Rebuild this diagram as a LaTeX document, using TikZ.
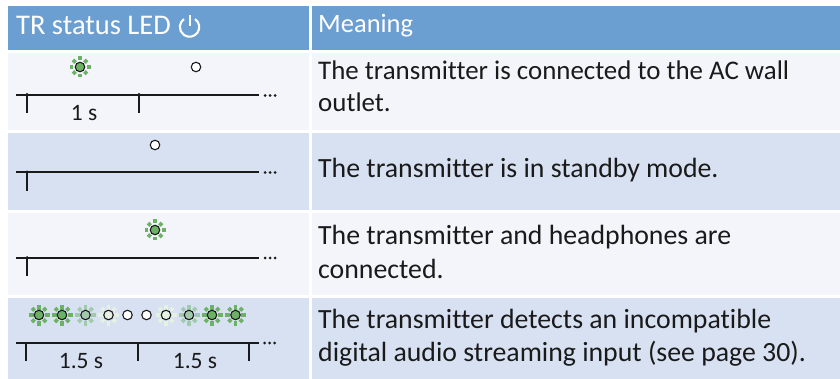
\documentclass[tikz,border=0pt]{standalone}
\usepackage{fontspec}
\setmainfont[RawFeature={-liga;-clig;-dlig}]{Carlito}
\definecolor{hdr}{HTML}{6B9ED1}
\definecolor{rowa}{HTML}{F3F5FB}
\definecolor{rowb}{HTML}{D7E1F1}
\definecolor{ledg}{HTML}{6CB165}
\definecolor{txt}{HTML}{1A1A1A}
\tikzset{
  cellfill/.style={fill=#1,draw=none},
  headtext/.style={text=white,anchor=base west,inner sep=0pt,font=\fontsize{28.5}{30}\selectfont},
  bodytext/.style={text=txt,anchor=base west,inner sep=0pt,align=left,font=\fontsize{27.8}{33}\selectfont},
  timetext/.style={text=txt,anchor=base,inner sep=0pt,font=\fontsize{23.5}{26}\selectfont},
  tline/.style={draw=txt,line width=1.1pt},
  tickl/.style={draw=txt,line width=1.1pt},
  tdot/.style={circle,fill=txt,draw=none,minimum size=3pt,inner sep=0pt},
  ledc/.style={circle,draw=txt,line width=1.1pt,minimum size=9.5pt,inner sep=0pt},
}
% #1,#2 centre, #3 colour, #4 inner start of the straight rays
\newcommand{\ledrays}[4]{%
  \foreach \a in {0,90,180,270}
    \fill[#3,shift={(#1,#2)},rotate=\a] (#4,-1.8) rectangle (10.5,1.8);
  \foreach \a in {45,135,225,315}
    \fill[#3,shift={(#1,#2)},rotate=\a] (6.2,-1.9) rectangle (9.9,1.9);
}
\newcommand{\ledon}[5]{%
  \ledrays{#2}{#3}{#4}{#5}
  \node[ledc,fill=#4] (#1) at (#2,#3) {};
}
\newcommand{\ledoff}[3]{\node[ledc,fill=white] (#1) at (#2,#3) {};}
\newcommand{\tmore}[3]{%
  \node[tdot] (#1a) at (#2,#3) {};
  \node[tdot] (#1b) at (#2+5,#3) {};
  \node[tdot] (#1c) at (#2+10,#3) {};
}
\begin{document}
\begin{tikzpicture}[x=1pt,y=-1pt]
\useasboundingbox (0,0) rectangle (840,379);
\fill[white] (0,0) rectangle (840,379);
% cells
\fill[cellfill=hdr] (8,6) rectangle (309,50);
\fill[cellfill=hdr] (312,6) rectangle (840,50);
\fill[cellfill=rowa] (8,53) rectangle (309,130);
\fill[cellfill=rowa] (312,53) rectangle (840,130);
\fill[cellfill=rowb] (8,133) rectangle (309,210);
\fill[cellfill=rowb] (312,133) rectangle (840,210);
\fill[cellfill=rowa] (8,213) rectangle (309,295);
\fill[cellfill=rowa] (312,213) rectangle (840,295);
\fill[cellfill=rowb] (8,298) rectangle (309,379);
\fill[cellfill=rowb] (312,298) rectangle (840,379);
% header
\node[headtext] (h1) at (16,35) {TR status LED};
\draw[white,line width=2.1pt] (195.1,19.1) arc[start angle=305,end angle=595,radius=9.7];
\draw[white,line width=2.1pt] (189.6,14.8) -- (189.6,26.5);
\node[headtext,font=\fontsize{26.5}{30}\selectfont] (h2) at (318,32.5) {Meaning};
% meaning text
\node[bodytext,font=\fontsize{26.9}{32}\selectfont] (m1) at (318,111.5) {The transmitter is connected to the AC wall\\outlet.};
\node[bodytext] (m2) at (318,177.5) {The transmitter is in standby mode.};
\node[bodytext] (m3) at (318,278) {The transmitter and headphones are\\connected.};
\node[bodytext] (m4) at (318,361) {The transmitter detects an incompatible\\digital audio streaming input (see page 30).};
% row 1
\ledon{a1}{80}{67}{ledg}{6.8}
\ledoff{a2}{196}{67}
\coordinate (l1s) at (16,95); \coordinate (l1e) at (259,95);
\draw[tline] (l1s) -- (l1e);
\draw[tickl] (27,94) -- (27,113);
\draw[tickl] (139,94) -- (139,113);
\node[tdot] at (27,94.5) {}; \node[tdot] at (139,94.5) {};
\tmore{d1}{265}{95.5}
\node[timetext] (t1) at (84,120.5) {1 s};
% row 2
\ledoff{b1}{155}{145}
\coordinate (l2s) at (16,172); \coordinate (l2e) at (259,172);
\draw[tline] (l2s) -- (l2e);
\draw[tickl] (27,172) -- (27,191);
\node[tdot] at (27,172) {};
\tmore{d2}{265}{172.5}
% row 3
\ledon{c1}{155}{230}{ledg}{6.8}
\coordinate (l3s) at (16,258); \coordinate (l3e) at (259,258);
\draw[tline] (l3s) -- (l3e);
\draw[tickl] (27,258) -- (27,276);
\node[tdot] at (27,257.5) {};
\tmore{d3}{265}{258}
% row 4
\ledon{e1}{39}{315}{ledg}{5.5}
\ledon{e2}{62}{315}{ledg}{5.5}
\ledon{e3}{85.5}{315}{ledg!50!rowb}{5.5}
\ledon{e4}{108.5}{315}{ledg!18!white}{5.5}
\ledoff{e5}{127.5}{315}
\ledoff{e6}{146.5}{315}
\ledon{e7}{166}{315}{ledg!18!white}{5.5}
\ledon{e8}{189}{315}{ledg!50!rowb}{5.5}
\ledon{e9}{212}{315}{ledg}{5.5}
\ledon{e10}{235.5}{315}{ledg}{5.5}
\coordinate (l4s) at (16,343); \coordinate (l4e) at (258.5,343);
\draw[draw=txt,line width=1.7pt] (l4s) -- (l4e);
\draw[tickl,line width=1.4pt] (26,342) -- (26,361);
\draw[tickl,line width=1.4pt] (138,342) -- (138,361);
\draw[tickl,line width=1.4pt] (249,342) -- (249,361);
\tmore{d4}{264.5}{343}
\node[timetext] (t2) at (81,368) {1.5 s};
\node[timetext] (t3) at (195,368) {1.5 s};
\end{tikzpicture}
\end{document}
